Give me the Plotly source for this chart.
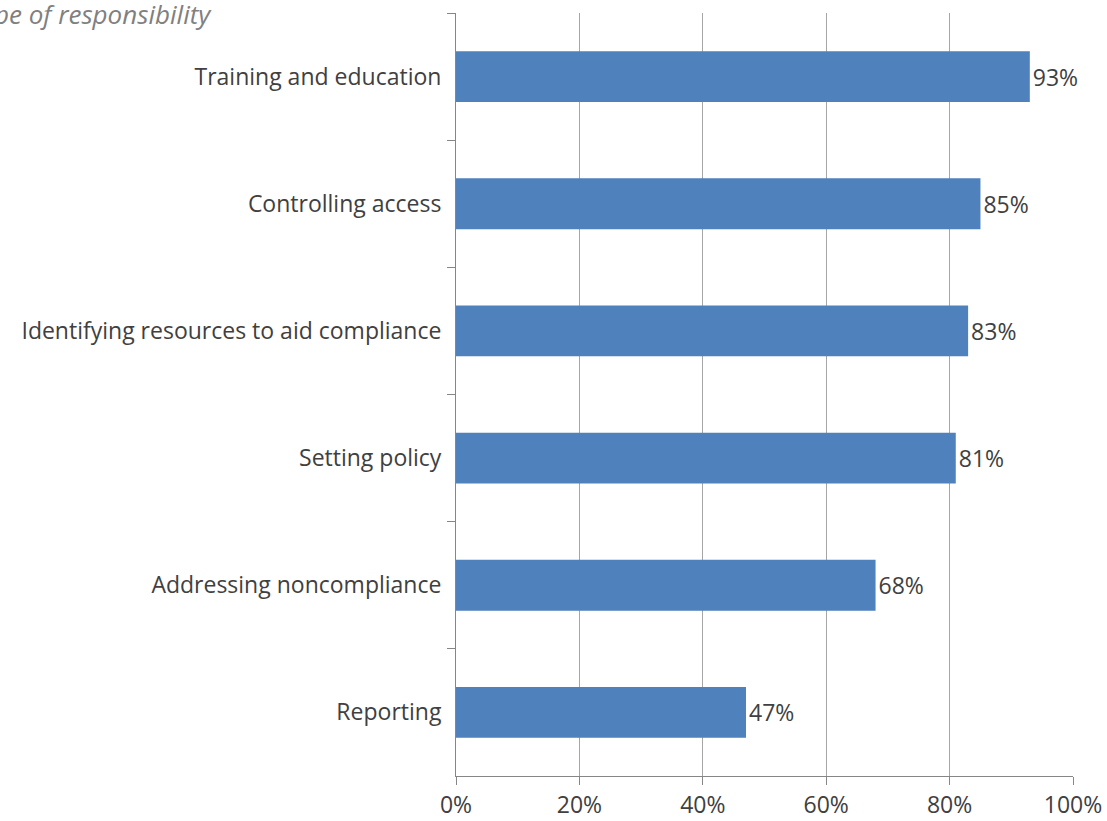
import plotly.graph_objects as go

# Share of respondents by type of responsibility (top to bottom)
categories = [
    "Training and education",
    "Controlling access",
    "Identifying resources to aid compliance",
    "Setting policy",
    "Addressing noncompliance",
    "Reporting",
]
values = [93, 85, 83, 81, 68, 47]
x_ticks = [0, 20, 40, 60, 80, 100]
x_tick_labels = ["0%", "20%", "40%", "60%", "80%", "100%"]

W, H = 1107, 821
L, R, T, B = 456, 34, 13, 45
plot_w = W - L - R
plot_h = H - T - B

text_color = "#404040"
font_family = "Open Sans, DejaVu Sans, sans-serif"
label_size = 23

fig = go.Figure(
    go.Bar(
        x=values,
        y=categories,
        orientation="h",
        marker=dict(color="#4F81BD", line=dict(width=0)),
        text=[f"{v}%" for v in values],
        textposition="outside",
        textfont=dict(family=font_family, size=label_size, color=text_color),
        constraintext="none",
        cliponaxis=False,
        hoverinfo="skip",
    )
)

fig.update_layout(
    width=W,
    height=H,
    margin=dict(l=L, r=R, t=T, b=B, pad=0),
    paper_bgcolor="white",
    plot_bgcolor="white",
    bargap=0.6,
    showlegend=False,
    font=dict(family=font_family, color=text_color),
    xaxis=dict(
        range=[0, 100],
        tickvals=x_ticks,
        ticktext=x_tick_labels,
        showgrid=True,
        gridcolor="#A6A6A6",
        gridwidth=1,
        zeroline=False,
        showline=True,
        linecolor="#868686",
        linewidth=1,
        ticks="outside",
        ticklen=8,
        tickcolor="#868686",
        tickfont=dict(family=font_family, size=label_size, color=text_color),
        ticklabelstandoff=0,
        automargin=False,
        fixedrange=True,
    ),
    yaxis=dict(
        categoryorder="array",
        categoryarray=categories,
        autorange="reversed",
        showline=True,
        linecolor="#868686",
        linewidth=1,
        ticks="outside",
        tickson="boundaries",
        ticklen=8,
        tickcolor="#868686",
        showgrid=False,
        tickfont=dict(family=font_family, size=label_size, color=text_color),
        ticklabelstandoff=9,
        automargin=False,
        fixedrange=True,
    ),
    annotations=[
        dict(
            text="Type of responsibility",
            xref="paper",
            yref="paper",
            x=(-33 - L) / plot_w,
            y=1 + (T + 6) / plot_h,
            xanchor="left",
            yanchor="top",
            showarrow=False,
            font=dict(family=font_family, size=26, color="#808080", style="italic"),
        )
    ],
)

fig.write_html("out.html")
